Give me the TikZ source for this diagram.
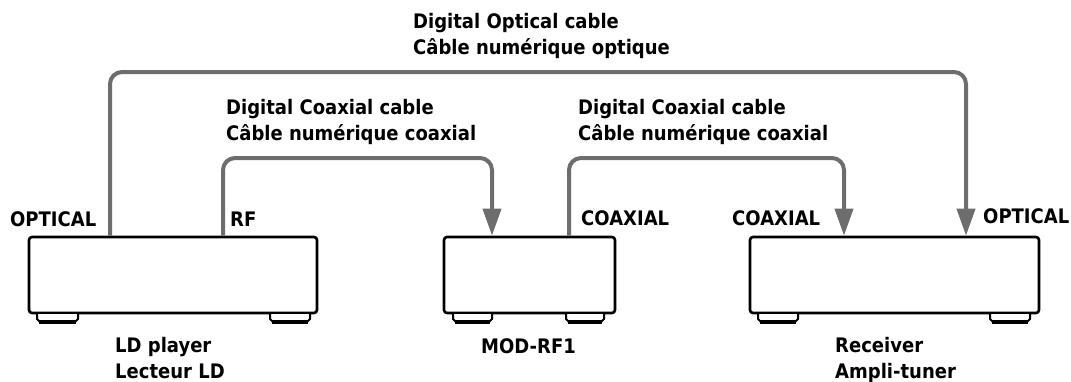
\documentclass[tikz,border=0pt]{standalone}
\usepackage{fontspec}
\setmainfont{DejaVu Sans}[FakeStretch=0.9]
\usetikzlibrary{arrows.meta}
\definecolor{cablegray}{HTML}{6D6D6D}
\tikzset{
  dev/.style={draw=black, line width=2.6pt, rounded corners=3pt, fill=white, inner sep=0pt},
  cable/.style={draw=cablegray, line width=4pt, rounded corners=12pt},
  arr/.style={-{Triangle[width=18pt,length=27pt]}},
  lbl/.style={anchor=base west, inner sep=0pt, font=\fontsize{20}{25.5}\selectfont\bfseries, align=left},
  foot/.style={draw=black, line width=2pt, fill=white},
  footbase/.style={draw=black, line width=3.2pt},
}
\begin{document}
\begin{tikzpicture}[x=1pt,y=-1pt]
\useasboundingbox (0,0) rectangle (1071,381);

% devices
\node[dev, minimum width=288pt, minimum height=76pt] (ld) at (173,275) {};
\node[dev, minimum width=171pt, minimum height=76pt] (mod) at (529.5,275) {};
\node[dev, minimum width=289pt, minimum height=76pt] (rcv) at (894.5,275) {};

% feet
\foreach \a/\b in {37/78, 270/310, 453/492, 566/604, 758/798, 990/1030}{
  \draw[foot] (\a,314) -- (\a,319) -- (\a+3,322) -- (\b-3,322) -- (\b,319) -- (\b,314);
  \draw[footbase] (\a+2,322) -- (\b-2,322);
}

% cable coordinates
\coordinate (xo) at (110,0);
\coordinate (xrf) at (223,0);
\coordinate (xmin) at (492,0);
\coordinate (xmout) at (569,0);
\coordinate (xrc) at (844,0);
\coordinate (xro) at (966,0);
\coordinate (topO) at (0,72);
\coordinate (topC) at (0,158);

% cables
\draw[cable, arr] (ld.north -| xo) -- (xo |- topO) -- (xro |- topO) -- (rcv.north -| xro);
\draw[cable, arr] (ld.north -| xrf) -- (xrf |- topC) -- (xmin |- topC) -- (mod.north -| xmin);
\draw[cable, arr] (mod.north -| xmout) -- (xmout |- topC) -- (xrc |- topC) -- (rcv.north -| xrc);

% cable labels (base = baseline of last line)
\node[lbl] (lopt) at (413,54) {Digital Optical cable\\Câble numérique optique};
\node[lbl] (lco1) at (226,140) {Digital Coaxial cable\\Câble numérique coaxial};
\node[lbl] (lco2) at (578,140) {Digital Coaxial cable\\Câble numérique coaxial};

% port labels
\node[lbl] (p1) at (10,226) {OPTICAL};
\node[lbl] (p2) at (230,226) {RF};
\node[lbl] (p3) at (581,225) {COAXIAL};
\node[lbl] (p4) at (732,225) {COAXIAL};
\node[lbl] (p5) at (983,223) {OPTICAL};

% device labels
\node[lbl] (n1) at (115,378) {LD player\\Lecteur LD};
\node[lbl] (n2) at (481,353) {MOD-RF1};
\node[lbl] (n3) at (835,378) {Receiver\\Ampli-tuner};
\end{tikzpicture}
\end{document}
